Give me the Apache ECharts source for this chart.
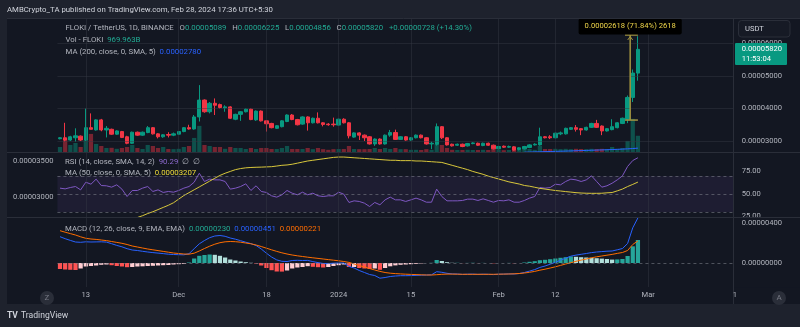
<!DOCTYPE html>
<html><head><meta charset="utf-8">
<script src="https://cdn.jsdelivr.net/npm/echarts@6/dist/echarts.min.js"></script>
<style>html,body{margin:0;padding:0;background:#131722;}#c{width:800px;height:327px;}</style>
</head><body><div id="c"></div><script>
// ---- data (prices in units of 1e-5 USDT, MACD in 1e-6, volume in billions) ----
const startDate = [2023, 10, 8]; // 2023-11-08, daily categories
const categoryCount = 131;
const xTickDates = ['2023-11-13','2023-12-01','2023-12-18','2024-01-01','2024-01-15','2024-02-01','2024-02-12','2024-03-01'];
const xTickLabels = ['13','Dec','18','2024','15','Feb','12','Mar'];
const priceTicks = [3,4,5,6];
const rsiTicks = [25,50,75];
const maLeftTicks = [3.0,3.5];
const macdTicks = [0,4];

const opens = [3.07,3.10,3.03,3.10,3.15,3.03,3.41,3.34,3.65,3.34,
3.36,3.21,3.29,3.13,2.93,3.27,3.18,3.26,3.41,3.22,
3.13,3.20,3.18,3.21,3.29,3.41,3.37,3.74,4.26,3.90,
4.16,4.12,4.02,4.05,3.67,3.82,3.90,3.98,3.65,3.92,
3.62,3.54,3.39,3.44,3.60,3.80,3.66,3.52,3.74,3.56,
3.70,3.56,3.52,3.52,3.49,3.67,3.56,3.12,3.25,3.18,
3.13,2.91,3.06,2.91,3.18,3.26,3.05,3.13,3.03,3.10,
3.18,3.10,2.91,2.90,3.44,3.10,2.90,2.87,2.90,2.85,
2.92,2.93,2.86,2.93,2.87,2.76,2.84,2.81,2.82,2.74,
2.76,2.80,2.88,2.88,3.13,3.13,3.10,3.22,3.22,3.36,
3.41,3.38,3.34,3.42,3.54,3.46,3.31,3.35,3.41,3.54,
3.67,4.34,5.089];
const highs = [3.12,3.56,3.16,3.39,3.17,4.00,3.85,3.67,3.68,3.46,
3.38,3.33,3.31,3.16,3.29,3.29,3.29,3.46,3.43,3.24,
3.21,3.27,3.26,3.30,3.43,3.50,3.80,4.72,4.28,4.20,
4.31,4.15,4.10,4.07,3.84,3.92,4.00,4.00,3.94,3.94,
3.64,3.56,3.49,3.64,3.82,3.83,3.68,3.76,3.76,3.72,
3.88,3.58,3.55,3.72,3.69,3.70,3.58,3.27,3.27,3.20,
3.15,3.08,3.08,3.20,3.34,3.35,3.15,3.15,3.12,3.20,
3.20,3.12,2.98,3.54,3.46,3.12,2.92,2.92,2.92,2.94,
2.96,2.95,2.95,2.95,2.89,2.85,2.86,2.86,2.84,2.81,
2.85,2.90,2.93,3.41,3.15,3.18,3.26,3.29,3.41,3.43,
3.49,3.40,3.44,3.56,3.65,3.48,3.40,3.67,3.58,3.72,
4.40,5.20,6.225];
const lows = [3.05,2.98,3.00,2.98,3.00,3.00,3.36,3.32,3.30,3.11,
3.19,3.19,3.09,2.90,2.91,3.16,3.16,3.24,3.20,3.08,
3.10,3.11,3.15,3.19,3.27,3.35,3.35,3.60,3.87,3.85,
3.80,4.00,3.90,3.68,3.64,3.62,3.88,3.64,3.62,3.60,
3.29,3.39,3.37,3.42,3.58,3.64,3.48,3.50,3.32,3.54,
3.54,3.45,3.47,3.44,3.47,3.54,3.08,3.10,3.03,3.00,
2.89,2.85,2.89,2.89,3.13,3.03,3.03,3.01,3.01,3.08,
3.08,2.89,2.75,2.86,3.06,2.86,2.83,2.85,2.81,2.83,
2.90,2.85,2.84,2.85,2.74,2.74,2.79,2.79,2.70,2.71,
2.74,2.78,2.86,2.86,3.08,3.06,3.08,3.18,3.20,3.34,
3.29,3.18,3.32,3.40,3.40,3.18,3.29,3.33,3.39,3.52,
3.55,4.20,4.856];
const closes = [3.10,3.03,3.13,3.16,3.03,3.41,3.36,3.65,3.34,3.39,
3.21,3.31,3.11,2.93,3.27,3.18,3.27,3.41,3.22,3.13,
3.19,3.18,3.22,3.29,3.41,3.37,3.74,4.26,3.90,4.16,
4.10,4.03,4.05,3.70,3.82,3.90,3.98,3.66,3.92,3.62,
3.53,3.41,3.47,3.62,3.80,3.66,3.50,3.74,3.56,3.70,
3.56,3.51,3.50,3.50,3.67,3.56,3.16,3.25,3.18,3.10,
2.91,3.06,2.91,3.18,3.26,3.05,3.13,3.03,3.10,3.18,
3.10,2.91,2.93,3.44,3.10,2.88,2.85,2.90,2.83,2.92,
2.94,2.87,2.93,2.87,2.76,2.83,2.81,2.83,2.72,2.79,
2.83,2.88,2.90,3.13,3.10,3.10,3.24,3.25,3.39,3.41,
3.36,3.34,3.42,3.54,3.42,3.31,3.38,3.44,3.56,3.70,
4.34,5.092,5.82];
const volumes = [300,840,420,540,300,720,1080,480,360,240,
250,190,240,300,420,240,180,420,360,240,
300,180,170,190,300,360,840,1560,420,360,
300,300,190,300,240,240,180,240,180,240,
240,180,180,240,360,180,180,180,240,170,
240,170,130,170,180,180,360,180,170,170,
180,240,180,240,180,240,170,170,130,130,
120,170,130,480,420,240,130,120,120,130,
120,120,130,120,170,130,110,120,130,130,
180,180,130,360,180,180,190,170,190,170,
190,180,170,190,180,190,170,300,190,240,
660,1980,969.963];
const ma200Start = 90;
const ma200 = [2.655,2.66,2.664,2.668,2.673,2.677,2.681,2.686,2.69,2.695,2.70,2.705,2.71,2.715,2.72,2.726,2.731,2.737,2.743,2.75,2.758,2.768,2.78];
const rsi = [56.5,55.7,57.2,58.3,54.6,63.1,60.9,66.5,59.4,59.1,
57.6,60.2,55.4,47.2,53.9,53.9,56.5,58.3,52.8,54.6,
51.7,52.8,52.0,53.9,56.5,58.3,63.1,73.1,63.9,66.5,
65.7,65.7,63.9,55.4,56.5,58.3,61.3,53.9,59.1,52.8,
51.7,48.0,46.5,49.1,53.9,50.9,49.1,52.0,49.1,50.9,
48.0,47.2,48.0,48.0,52.0,49.8,40.6,42.4,41.7,39.8,
36.1,40.6,38.0,43.5,46.5,43.5,43.5,41.7,43.5,45.4,
43.5,40.9,40.9,55.4,47.2,42.4,42.4,42.4,42.8,44.3,
44.3,42.8,44.6,42.8,40.9,42.8,42.4,43.5,40.9,40.9,
42.8,45.4,47.2,57.2,56.5,57.2,60.9,60.2,63.9,66.5,
65.7,63.9,65.7,70.2,63.9,57.6,59.1,62.0,65.7,70.2,
80.6,87.2,90.29];
const ma50Start = 12;
const ma50 = [2.64,2.67,2.69,2.715,2.74,2.77,2.795,2.825,2.855,2.885,
2.92,2.97,3.02,3.06,3.10,3.14,3.18,3.22,3.26,3.30,
3.33,3.355,3.38,3.395,3.405,3.41,3.413,3.415,3.418,3.421,
3.43,3.44,3.445,3.455,3.47,3.485,3.50,3.51,3.52,3.53,
3.54,3.55,3.555,3.555,3.55,3.545,3.54,3.535,3.53,3.525,
3.52,3.515,3.51,3.51,3.505,3.505,3.505,3.50,3.50,3.495,
3.49,3.485,3.48,3.46,3.44,3.42,3.40,3.38,3.355,3.335,
3.315,3.29,3.27,3.25,3.23,3.21,3.195,3.18,3.16,3.15,
3.135,3.12,3.11,3.10,3.09,3.083,3.075,3.068,3.06,3.055,
3.052,3.051,3.051,3.052,3.058,3.062,3.085,3.11,3.145,3.175,
3.207];
const macdLine = [2.63,2.43,2.26,2.10,2.07,2.12,2.10,2.11,2.12,2.09,
1.93,1.76,1.62,1.43,1.30,1.25,1.17,1.10,1.04,0.99,
0.94,0.88,0.85,0.83,0.82,0.93,1.43,1.92,2.25,2.53,
2.70,2.75,2.67,2.50,2.38,2.23,2.08,1.94,1.75,1.40,
0.98,0.60,0.31,0.17,0.15,0.25,0.27,0.25,0.26,0.14,
0.04,-0.05,-0.06,-0.02,0.00,0.00,-0.34,-0.50,-0.75,-0.95,
-1.15,-1.25,-1.52,-1.45,-1.35,-1.30,-1.27,-1.27,-1.26,-1.24,
-1.22,-1.20,-1.18,-0.87,-0.93,-1.03,-1.09,-1.10,-1.14,-1.12,
-1.11,-1.14,-1.12,-1.13,-1.16,-1.12,-1.11,-1.09,-1.10,-1.05,
-0.95,-0.81,-0.66,-0.44,-0.30,-0.12,0.07,0.28,0.48,0.68,
0.79,0.87,0.95,1.04,1.10,1.14,1.18,1.20,1.32,1.45,
1.95,3.52,4.51];
const signalLine = [3.23,3.08,2.94,2.80,2.62,2.47,2.40,2.36,2.30,2.24,
2.15,2.06,1.97,1.85,1.70,1.60,1.50,1.40,1.32,1.24,
1.16,1.08,1.00,0.95,0.90,0.88,0.98,1.20,1.45,1.68,
1.88,2.03,2.12,2.15,2.13,2.08,2.00,1.92,1.80,1.65,
1.48,1.32,1.16,1.02,0.90,0.80,0.72,0.65,0.58,0.52,
0.46,0.40,0.34,0.28,0.22,0.15,0.06,-0.10,-0.25,-0.40,
-0.55,-0.70,-0.84,-0.95,-1.02,-1.06,-1.09,-1.12,-1.14,-1.16,
-1.18,-1.20,-1.20,-1.17,-1.13,-1.11,-1.11,-1.12,-1.13,-1.13,
-1.13,-1.13,-1.13,-1.13,-1.13,-1.12,-1.11,-1.10,-1.08,-1.05,
-1.00,-0.93,-0.84,-0.72,-0.62,-0.50,-0.38,-0.24,-0.10,0.03,
0.17,0.29,0.40,0.52,0.62,0.70,0.78,0.86,0.96,1.05,
1.25,1.85,2.21];
const histogram = [-0.60,-0.65,-0.68,-0.70,-0.55,-0.35,-0.30,-0.25,-0.18,-0.15,
-0.22,-0.30,-0.35,-0.42,-0.40,-0.35,-0.33,-0.30,-0.28,-0.25,
-0.22,-0.20,-0.15,-0.12,-0.08,0.05,0.45,0.72,0.80,0.85,
0.82,0.72,0.55,0.35,0.25,0.15,0.08,0.02,-0.05,-0.25,
-0.50,-0.72,-0.85,-0.86,-0.75,-0.55,-0.45,-0.40,-0.32,-0.38,
-0.42,-0.45,-0.40,-0.30,-0.22,-0.15,-0.40,-0.40,-0.50,-0.55,
-0.60,-0.55,-0.68,-0.50,-0.33,-0.24,-0.18,-0.15,-0.12,-0.08,
-0.04,0.00,0.02,0.30,0.20,0.08,0.02,0.02,-0.01,0.01,
0.02,-0.01,0.01,0.00,-0.03,0.00,0.00,0.01,-0.02,0.00,
0.05,0.12,0.18,0.28,0.32,0.38,0.45,0.52,0.58,0.65,
0.62,0.58,0.55,0.52,0.48,0.44,0.40,0.34,0.36,0.40,
0.70,1.67,2.30];
const measureIndex = 110, measureFrom = 3.644, measureTo = 6.262;
const clockText = '11:53:04';

// ---- build ----
const cats = [];
for (let i = 0; i < categoryCount; i++) {
  const d = new Date(Date.UTC(startDate[0], startDate[1], startDate[2] + i));
  cats.push(d.toISOString().slice(0, 10));
}
const n = closes.length;
const FF = 'Roboto, "Noto Sans", sans-serif';
const FS = 7.6;   // axis labels
const LFS = 7.8;  // legends
const AX = '#b2b5be';
const UP = '#089981', DN = '#f23645';
const fmt = (v, s) => (v * s).toFixed(8);
const GL = 57.42, GW = 675.96;

const candleData = opens.map((o, i) => [o, closes[i], lows[i], highs[i]]);
const volData = volumes.map((v, i) => ({value: v, itemStyle: {color: closes[i] >= opens[i] ? 'rgba(8,153,129,0.45)' : 'rgba(242,54,69,0.45)'}}));
const ma200Data = closes.map((c, i) => i >= ma200Start ? ma200[i - ma200Start] : null);
const ma50Data = closes.map((c, i) => i >= ma50Start ? ma50[i - ma50Start] : null);
const histData = histogram.map((h, i) => {
  const p = i > 0 ? histogram[i - 1] : 0;
  const col = h >= 0 ? (h >= p ? '#26a69a' : '#b2dfdb') : (h < p ? '#ff5252' : '#ffcdd2');
  return {value: h, itemStyle: {color: col}};
});
const vGrid = xTickDates.map(d => ({xAxis: d}));
const gridLineStyle = {color: 'rgba(54,58,69,0.45)', width: 1, type: 'solid'};
const ml = (data) => ({silent: true, symbol: 'none', label: {show: false}, animation: false, lineStyle: gridLineStyle, data});

function xAx(gi, showLabels) {
  return {type: 'category', gridIndex: gi, data: cats, boundaryGap: true,
    axisLine: {show: false}, axisTick: {show: false}, splitLine: {show: false},
    axisLabel: showLabels ? {show: true, color: AX, fontSize: FS, fontFamily: FF, margin: 4,
      interval: (idx, val) => xTickDates.includes(val),
      formatter: (val) => { const k = xTickDates.indexOf(val); return k >= 0 ? xTickLabels[k] : ''; }} : {show: false}};
}
function yAx(gi, pos, min, max, ticks, f, margin, extra) {
  return Object.assign({type: 'value', gridIndex: gi, position: pos, min, max, scale: true,
    axisLine: {show: false}, axisTick: {show: false}, splitLine: {show: false},
    axisLabel: ticks ? {show: true, customValues: ticks, color: AX, fontSize: FS, fontFamily: FF, margin, formatter: f} : {show: false}}, extra || {});
}

const chart = echarts.init(document.getElementById('c'), null, {renderer: 'canvas'});
const option = {
  animation: false,
  backgroundColor: '#131722',
  textStyle: {fontFamily: FF},
  grid: [
    {left: GL, width: GW, top: 18, height: 134},
    {left: GL, width: GW, top: 152, height: 65},
    {left: GL, width: GW, top: 217, height: 70}
  ],
  xAxis: [xAx(0, false), xAx(1, false), xAx(2, true)],
  yAxis: [
    yAx(0, 'right', 2.6615, 6.785, priceTicks, v => fmt(v, 1e-5), 8.3),
    yAx(0, 'left', 0, 8000, null),
    yAx(1, 'right', 24.44, 96.67, rsiTicks, v => v.toFixed(2), 8.3),
    yAx(1, 'left', 2.722, 3.625, maLeftTicks, v => fmt(v, 1e-5), 4),
    yAx(2, 'right', -2.4, 4.6, macdTicks, v => fmt(v, 1e-6), 8.3, {z: 5})
  ],
  series: [
    {type: 'bar', name: 'Vol', xAxisIndex: 0, yAxisIndex: 1, data: volData, barWidth: '82%', z: 1, silent: true},
    {type: 'candlestick', xAxisIndex: 0, yAxisIndex: 0, data: candleData, barWidth: '74%', z: 3,
      itemStyle: {color: UP, color0: DN, borderColor: UP, borderColor0: DN, borderWidth: 1},
      markLine: ml(vGrid.concat(priceTicks.map(v => ({yAxis: v}))))},
    {type: 'line', xAxisIndex: 0, yAxisIndex: 0, data: ma200Data, symbol: 'none', z: 4,
      lineStyle: {color: '#2962ff', width: 1}},
    {type: 'custom', xAxisIndex: 0, yAxisIndex: 0, clip: false, silent: true, z: 10,
      data: [[measureIndex, measureFrom, measureTo]],
      renderItem: (params, api) => {
        const bw = api.size([1, 0])[0];
        const a = api.coord([api.value(0), api.value(1)]);
        const b = api.coord([api.value(0), api.value(2)]);
        const x = a[0] + bw / 2;
        const diff = api.value(2) - api.value(1);
        const txt = fmt(diff, 1e-5) + ' (' + (diff / api.value(1) * 100).toFixed(2) + '%) ' + Math.round(diff * 1000);
        const lc = '#a39440';
        return {type: 'group', children: [
          {type: 'line', shape: {x1: x, y1: a[1], x2: x, y2: b[1]}, style: {stroke: lc, lineWidth: 1.5}},
          {type: 'line', shape: {x1: x - bw, y1: a[1], x2: x + 1.5 * bw, y2: a[1]}, style: {stroke: lc, lineWidth: 1.5}},
          {type: 'line', shape: {x1: x - bw, y1: b[1], x2: x + 1.5 * bw, y2: b[1]}, style: {stroke: lc, lineWidth: 1.5}},
          {type: 'polyline', shape: {points: [[x - 2.5, b[1] + 5], [x, b[1] + 1.5], [x + 2.5, b[1] + 5]]}, style: {stroke: lc, fill: null, lineWidth: 1}},
          {type: 'text', x: x, y: b[1] - 8.5, style: {text: txt, fill: '#f0d64a', font: FS + 'px ' + FF, align: 'center', verticalAlign: 'middle', backgroundColor: '#000000', padding: [4, 6], borderRadius: 2}}
        ]};
      }},
    {type: 'line', xAxisIndex: 1, yAxisIndex: 2, data: rsi, symbol: 'none', z: 4,
      lineStyle: {color: '#7e57c2', width: 1},
      markArea: {silent: true, itemStyle: {color: 'rgba(126,87,194,0.10)'}, data: [[{yAxis: 70}, {yAxis: 30}]]},
      markLine: ml(vGrid.concat([70, 50, 30].map(v => ({yAxis: v, lineStyle: {color: 'rgba(120,123,134,0.6)', type: [3, 3], width: 1}}))))},
    {type: 'line', xAxisIndex: 1, yAxisIndex: 3, data: ma50Data, symbol: 'none', z: 4,
      lineStyle: {color: '#d9c83c', width: 1}},
    {type: 'bar', xAxisIndex: 2, yAxisIndex: 4, data: histData, barWidth: '82%', z: 2,
      markLine: ml(vGrid.concat([{yAxis: 0, lineStyle: {color: 'rgba(120,123,134,0.6)', type: [3, 3], width: 1}}]))},
    {type: 'line', xAxisIndex: 2, yAxisIndex: 4, data: macdLine, symbol: 'none', z: 4, lineStyle: {color: '#2962ff', width: 1}},
    {type: 'line', xAxisIndex: 2, yAxisIndex: 4, data: signalLine, symbol: 'none', z: 4, lineStyle: {color: '#ff6d00', width: 1}}
  ]
};
chart.setOption(option);

// ---- overlays: legends, frame, price tag ----
const last = n - 1;
const prev = closes[last - 1];
const chg = closes[last] - prev;
const font = (s, w) => (w ? w + ' ' : '') + s + 'px ' + FF;
const tok = (fill) => ({fill, fontSize: LFS, fontFamily: FF});
const TEAL = '#22ab94';
const SP = '   ';
const py = chart.convertToPixel({xAxisIndex: 0, yAxisIndex: 0}, [cats[last], closes[last]])[1];

const graphics = [
  {type: 'rect', shape: {x: 0, y: 0, width: 800, height: 18}, style: {fill: '#1e222d'}, z: 50},
  {type: 'rect', shape: {x: 0, y: 304, width: 800, height: 23}, style: {fill: '#1e222d'}, z: 50},
  {type: 'rect', shape: {x: 0, y: 18, width: 7, height: 286}, style: {fill: '#1e222d'}, z: 50},
  {type: 'rect', shape: {x: 734, y: 217.5, width: 66, height: 70}, style: {fill: '#131722'}, z: 1},
  {type: 'line', shape: {x1: 7, y1: 18.5, x2: 800, y2: 18.5}, style: {stroke: '#2a2e39', lineWidth: 1}, z: 51},
  {type: 'line', shape: {x1: 7, y1: 152.5, x2: 800, y2: 152.5}, style: {stroke: '#2a2e39', lineWidth: 1}, z: 51},
  {type: 'line', shape: {x1: 7, y1: 217.5, x2: 800, y2: 217.5}, style: {stroke: '#2a2e39', lineWidth: 1}, z: 51},
  {type: 'line', shape: {x1: 733.5, y1: 18, x2: 733.5, y2: 304}, style: {stroke: '#2a2e39', lineWidth: 1}, z: 51},
  {type: 'text', x: 7, y: 10, style: {text: 'AMBCrypto_TA published on TradingView.com, Feb 28, 2024 17:36 UTC+5:30', fill: '#d1d4dc', font: font(7.8), verticalAlign: 'middle'}, z: 52},
  {type: 'text', x: 65.5, y: 28, z: 52, style: {verticalAlign: 'middle', font: font(LFS),
    text: '{g|FLOKI / TetherUS, 1D, BINANCE' + SP + 'O}{t|' + fmt(opens[last], 1e-5) + '}{g|' + SP + 'H}{t|' + fmt(highs[last], 1e-5) + '}{g|' + SP + 'L}{t|' + fmt(lows[last], 1e-5) + '}{g|' + SP + 'C}{t|' + fmt(closes[last], 1e-5) + '}{t|' + SP + (chg >= 0 ? '+' : '') + fmt(chg, 1e-5) + ' (' + (chg >= 0 ? '+' : '') + (chg / prev * 100).toFixed(2) + '%)}',
    rich: {g: tok(AX), t: tok(TEAL)}}},
  {type: 'text', x: 65.5, y: 40, z: 52, style: {verticalAlign: 'middle', font: font(LFS),
    text: '{g|Vol - FLOKI  }{t|' + volumes[last].toFixed(3) + 'B}', rich: {g: tok(AX), t: tok(TEAL)}}},
  {type: 'text', x: 65.5, y: 52, z: 52, style: {verticalAlign: 'middle', font: font(LFS),
    text: '{g|MA (200, close, 0, SMA, 5)  }{t|' + fmt(ma200[ma200.length - 1], 1e-5) + '}', rich: {g: tok(AX), t: tok('#2962ff')}}},
  {type: 'text', x: 65, y: 162, z: 52, style: {verticalAlign: 'middle', font: font(LFS),
    text: '{g|RSI (14, close, SMA, 14, 2)  }{t|' + rsi[last].toFixed(2) + '}{g|  \u2205  \u2205}', rich: {g: tok(AX), t: tok('#8e6bd1')}}},
  {type: 'text', x: 65, y: 173.5, z: 52, style: {verticalAlign: 'middle', font: font(LFS),
    text: '{g|MA (50, close, 0, SMA, 5)  }{t|' + fmt(ma50[ma50.length - 1], 1e-5) + '}', rich: {g: tok(AX), t: tok('#f0dc3a')}}},
  {type: 'text', x: 65, y: 229, z: 52, style: {verticalAlign: 'middle', font: font(LFS),
    text: '{g|MACD (12, 26, close, 9, EMA, EMA)  }{h|' + fmt(histogram[last], 1e-6) + '}{g|  }{m|' + fmt(macdLine[last], 1e-6) + '}{g|  }{s|' + fmt(signalLine[last], 1e-6) + '}',
    rich: {g: tok(AX), h: tok(TEAL), m: tok('#2962ff'), s: tok('#ff6d00')}}},
  {type: 'text', x: 735, y: 295, z: 52, style: {text: '1', fill: AX, font: font(FS), align: 'center', verticalAlign: 'middle'}},
  {type: 'circle', shape: {cx: 47, cy: 298, r: 7}, style: {fill: '#2a2e39'}, z: 52},
  {type: 'text', x: 47, y: 298, z: 53, style: {text: 'Z', fill: '#787b86', font: font(8), align: 'center', verticalAlign: 'middle'}},
  {type: 'circle', shape: {cx: 779, cy: 298, r: 7}, style: {fill: '#2a2e39'}, z: 52},
  {type: 'text', x: 779, y: 298, z: 53, style: {text: 'A', fill: '#787b86', font: font(8), align: 'center', verticalAlign: 'middle'}},
  {type: 'rect', shape: {x: 738.5, y: 20.5, width: 51.5, height: 16.5, r: 3}, style: {fill: '#161a25', stroke: '#2a2e39', lineWidth: 1}, z: 52},
  {type: 'text', x: 745, y: 29, z: 53, style: {text: 'USDT', fill: '#d1d4dc', font: font(FS), verticalAlign: 'middle'}},
  {type: 'rect', shape: {x: 735, y: py - 6.3, width: 52, height: 22, r: 1}, style: {fill: UP}, z: 52},
  {type: 'text', x: 741.7, y: py, z: 53, style: {text: fmt(closes[last], 1e-5), fill: '#ffffff', font: font(FS), verticalAlign: 'middle'}},
  {type: 'text', x: 741.7, y: py + 10, z: 53, style: {text: clockText, fill: '#ffffff', font: font(FS), verticalAlign: 'middle'}},
  {type: 'text', x: 7, y: 315.5, z: 53, style: {text: 'TV', fill: '#d1d4dc', font: font(8.5, 'bold'), verticalAlign: 'middle'}},
  {type: 'text', x: 21, y: 315.5, z: 53, style: {text: 'TradingView', fill: '#d1d4dc', font: font(8.6), verticalAlign: 'middle'}}
];
chart.setOption({graphic: graphics});
</script></body></html>
